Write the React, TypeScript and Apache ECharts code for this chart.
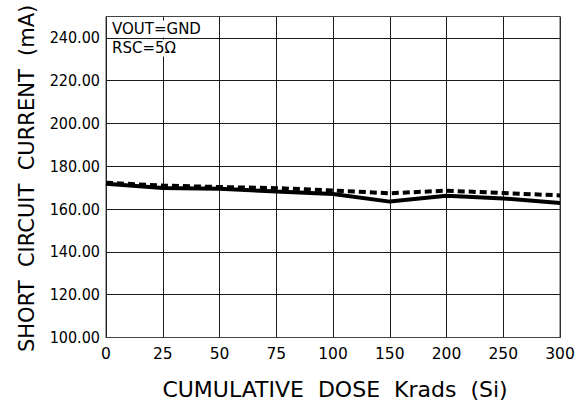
import React, { useEffect, useRef } from "react";
import * as echarts from "echarts";

const doseLabels = ["0", "25", "50", "75", "100", "150", "200", "250", "300"];
const currentSolid = [171.8, 169.9, 169.5, 168.2, 167.1, 163.5, 166.2, 165.0, 162.8];
const currentDashed = [172.3, 171.0, 170.3, 169.8, 168.7, 167.4, 168.6, 167.5, 166.4];
const yMin = 100;
const yMax = 250;
const yInterval = 20;
const noteLines = ["VOUT=GND", "RSC=5\u03A9"];
const xTitle = "CUMULATIVE  DOSE  Krads  (Si)";
const yTitle = "SHORT  CIRCUIT  CURRENT  (mA)";

export default function App() {
  const ref = useRef<HTMLDivElement>(null);
  useEffect(() => {
    if (!ref.current) return;
    const chart = echarts.init(ref.current, null, { renderer: "svg" });
    const font = "'DejaVu Sans', sans-serif";
    chart.setOption({
      animation: false,
      backgroundColor: "#fff",
      grid: {
        left: 106,
        right: 25,
        top: 16.5,
        bottom: 66.5,
        show: true,
        borderColor: "#444",
        borderWidth: 1,
        z: 1,
      },
      xAxis: {
        type: "category",
        data: doseLabels,
        boundaryGap: false,
        axisLine: { lineStyle: { color: "#000", width: 1 } },
        axisTick: { show: false },
        axisLabel: {
          color: "#000",
          fontFamily: font,
          fontSize: 15.5,
          margin: 8,
        },
        splitLine: { show: true, lineStyle: { color: "#1a1a1a", width: 1 } },
      },
      yAxis: {
        type: "value",
        min: yMin,
        max: yMax,
        interval: yInterval,
        axisLine: { show: true, lineStyle: { color: "#000", width: 1 } },
        axisTick: { show: false },
        axisLabel: {
          color: "#000",
          fontFamily: "'DejaVu Sans Condensed', 'DejaVu Sans', sans-serif",
          fontSize: 16,
          margin: 6,
          showMaxLabel: false,
          formatter: (v: number) => v.toFixed(2),
        },
        splitLine: { show: true, lineStyle: { color: "#1a1a1a", width: 1 } },
      },
      series: [
        {
          type: "line",
          data: currentSolid,
          showSymbol: false,
          symbol: "none",
          lineStyle: { color: "#000", width: 4 },
          z: 3,
        },
        {
          type: "line",
          data: currentDashed,
          showSymbol: false,
          symbol: "none",
          lineStyle: { color: "#000", width: 4, type: [7, 4] },
          z: 4,
        },
      ],
      graphic: [
        {
          type: "text",
          x: 111,
          y: 29,
          z: 10,
          style: {
            text: noteLines[0],
            fontFamily: font,
            fontSize: 15,
            fill: "#000",
            textVerticalAlign: "middle",
            backgroundColor: "#fff",
            padding: [1, 1, 1, 1],
          },
        },
        {
          type: "text",
          x: 111,
          y: 48,
          z: 10,
          style: {
            text: noteLines[1],
            fontFamily: font,
            fontSize: 15,
            fill: "#000",
            textVerticalAlign: "middle",
            backgroundColor: "#fff",
            padding: [1, 1, 1, 1],
          },
        },
        {
          type: "text",
          x: 335,
          y: 389,
          style: {
            text: xTitle,
            fontFamily: font,
            fontSize: 22,
            fill: "#000",
            textAlign: "center",
            textVerticalAlign: "middle",
          },
        },
        {
          type: "text",
          x: 27,
          y: 352,
          rotation: Math.PI / 2,
          style: {
            text: yTitle,
            fontFamily: font,
            fontSize: 21,
            fill: "#000",
            textAlign: "left",
            textVerticalAlign: "middle",
          },
        },
      ],
    });
    return () => chart.dispose();
  }, []);
  return (
    <div
      ref={ref}
      style={{ position: "fixed", left: 0, top: 0, width: 585, height: 404 }}
    />
  );
}
